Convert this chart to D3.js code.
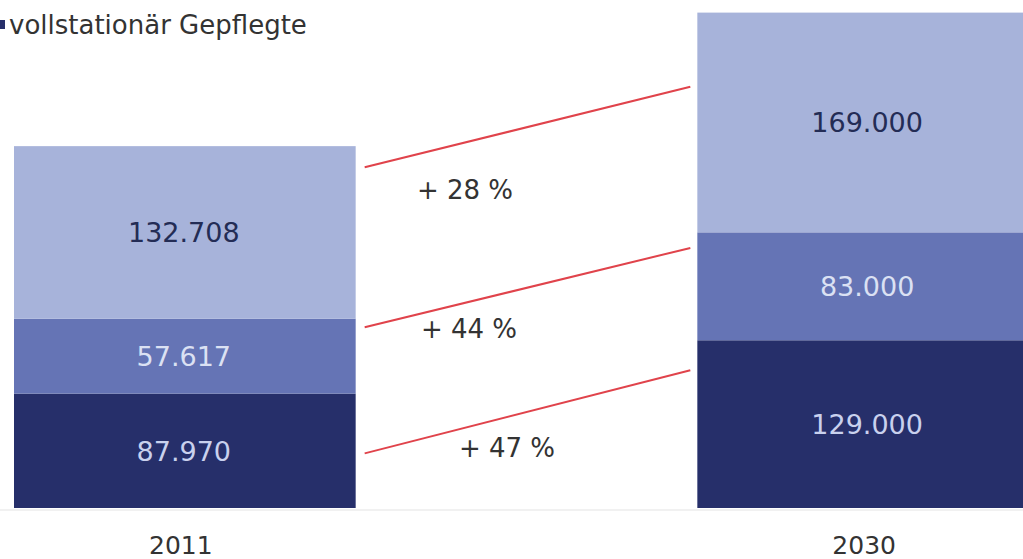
<!DOCTYPE html>
<html>
<head>
<meta charset="utf-8">
<script src="https://cdn.jsdelivr.net/npm/d3@7"></script>
<style>
  body { margin: 0; background: #fff; }
  svg { display: block; font-family: "DejaVu Sans", Verdana, sans-serif; }
</style>
</head>
<body>
<div id="chart"></div>
<script>
// data (values in persons)
var years = ["2011", "2030"];
var groups = ["vollstationär", "ambulant", "Angehörige"];
var vollstationaer = [87970, 129000];
var ambulant = [57617, 83000];
var angehoerige = [132708, 169000];

// growth annotations: start/end level (in persons)
var growthLabels = ["+ 28 %", "+ 44 %", "+ 47 %"];
var growthStart = [262000, 139000, 42000];
var growthEnd = [324000, 200000, 106000];

var legendLabel = "vollstationär Gepflegte";

var width = 1023, height = 559;
var color = d3.scaleOrdinal()
    .domain(groups)
    .range(["#262f6a", "#6574b5", "#a7b3da"]);
var textColor = d3.scaleOrdinal()
    .domain(groups)
    .range(["#c9d1ee", "#dbe1f3", "#232c55"]);

var svg = d3.select("#chart")
    .append("svg")
    .attr("width", width)
    .attr("height", height);

var x = d3.scaleBand()
    .domain(years)
    .range([14, 1039])
    .paddingInner(0.5)
    .paddingOuter(0);

var y = d3.scaleLinear()
    .domain([0, 383000])
    .range([508, 10]);

var de = d3.formatLocale({decimal: ",", thousands: ".", grouping: [3], currency: ["", " €"]});
var fmt = de.format(",");

// build stacked table
var table = years.map(function(yr, i) {
    return {year: yr, "vollstationär": vollstationaer[i], "ambulant": ambulant[i], "Angehörige": angehoerige[i]};
});
var series = d3.stack().keys(groups)(table);

// faint baseline
svg.append("line")
    .attr("x1", 0).attr("x2", width)
    .attr("y1", y(0) + 2).attr("y2", y(0) + 2)
    .style("stroke", "#ececec")
    .style("stroke-width", 1.5);

var layer = svg.selectAll("g.layer")
    .data(series)
    .enter()
    .append("g")
    .attr("class", "layer");

layer.selectAll("rect")
    .data(function(d) { return d.map(function(p) { return {key: d.key, p: p}; }); })
    .enter()
    .append("rect")
    .attr("x", function(d) { return x(d.p.data.year); })
    .attr("y", function(d) { return y(d.p[1]); })
    .attr("width", x.bandwidth())
    .attr("height", function(d) { return y(d.p[0]) - y(d.p[1]); })
    .style("fill", function(d) { return color(d.key); });

layer.selectAll("text")
    .data(function(d) { return d.map(function(p) { return {key: d.key, p: p}; }); })
    .enter()
    .append("text")
    .attr("x", function(d) { return x(d.p.data.year) + x.bandwidth() / 2 - 1; })
    .attr("y", function(d) { return (y(d.p[0]) + y(d.p[1])) / 2; })
    .attr("dy", "0.36em")
    .attr("text-anchor", "middle")
    .style("font-size", "27px")
    .style("fill", function(d) { return textColor(d.key); })
    .text(function(d) { return fmt(d.p[1] - d.p[0]); });

// year labels
svg.selectAll("text.year")
    .data(years)
    .enter()
    .append("text")
    .attr("class", "year")
    .attr("x", function(d) { return x(d) + x.bandwidth() / 2 - 4; })
    .attr("y", 545)
    .attr("dy", "0.36em")
    .attr("text-anchor", "middle")
    .style("font-size", "25px")
    .style("fill", "#333")
    .text(function(d) { return d; });

// red growth lines
var gx0 = x("2011") + x.bandwidth() + 9;
var gx1 = x("2030") - 7;
svg.selectAll("line.growth")
    .data(growthLabels)
    .enter()
    .append("line")
    .attr("class", "growth")
    .attr("x1", gx0)
    .attr("x2", gx1)
    .attr("y1", function(d, i) { return y(growthStart[i]); })
    .attr("y2", function(d, i) { return y(growthEnd[i]); })
    .style("stroke", "#e0434b")
    .style("stroke-width", 2);

var labelX = [465, 469, 507];
var labelDy = [22, 1, -6];
svg.selectAll("text.growth")
    .data(growthLabels)
    .enter()
    .append("text")
    .attr("class", "growth")
    .attr("x", function(d, i) { return labelX[i]; })
    .attr("y", function(d, i) { return y(growthStart[i]) + labelDy[i]; })
    .attr("dy", "0.36em")
    .attr("text-anchor", "middle")
    .style("font-size", "26px")
    .style("fill", "#333")
    .text(function(d) { return d; });

// legend
svg.append("rect")
    .attr("x", 0).attr("y", 20)
    .attr("width", 5).attr("height", 9)
    .style("fill", color("vollstationär"));
svg.append("text")
    .attr("x", 9)
    .attr("y", 25)
    .attr("dy", "0.36em")
    .style("font-size", "26px")
    .style("fill", "#333")
    .text(legendLabel);
</script>
</body>
</html>
